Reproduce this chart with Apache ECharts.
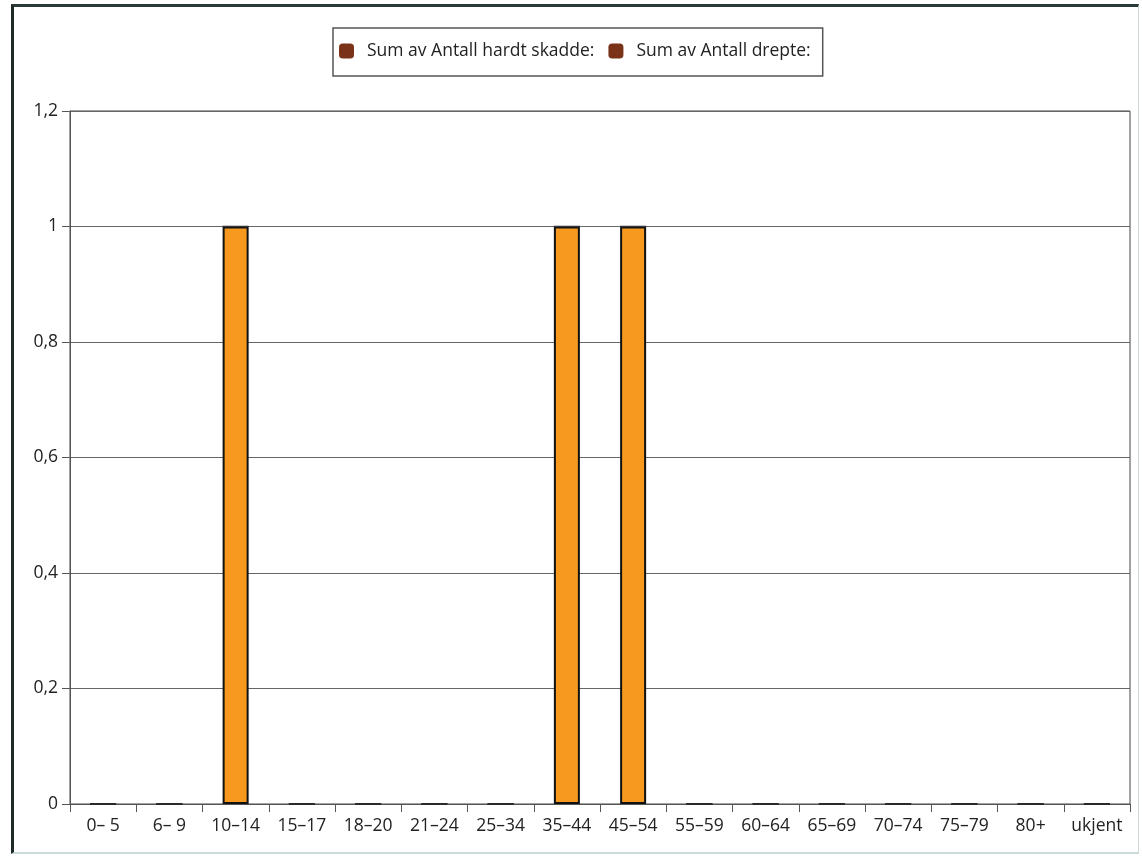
<!DOCTYPE html>
<html>
<head>
<meta charset="utf-8">
<script src="https://cdn.jsdelivr.net/npm/echarts@6/dist/echarts.min.js"></script>
<style>
html,body{margin:0;padding:0;background:#fff;}
#frame{position:absolute;left:11px;top:4px;width:1128px;height:850px;border-left:3px solid #1e2a28;border-top:3px solid #2a3a38;border-right:1px solid #cfd8d8;border-bottom:2px solid #c8dada;box-sizing:border-box;}
#chart{position:absolute;left:0;top:0;width:1142px;height:859px;}
</style>
</head>
<body>
<div id="frame"></div>
<div id="chart"></div>
<script>
const categories = ['0\u2013 5','6\u2013 9','10\u201314','15\u201317','18\u201320','21\u201324','25\u201334','35\u201344','45\u201354','55\u201359','60\u201364','65\u201369','70\u201374','75\u201379','80+','ukjent'];
const hardtSkadde = [0,0,1,0,0,0,0,1,1,0,0,0,0,0,0,0];
const drepte = [0,0,0,0,0,0,0,0,0,0,0,0,0,0,0,0];
const yTicks = [0,0.2,0.4,0.6,0.8,1,1.2];

const chart = echarts.init(document.getElementById('chart'));
const font = 'Open Sans, Liberation Sans, sans-serif';
chart.setOption({
  animation:false,
  legend:{
    top:28, left:333,
    padding:[14,12,16,6],
    borderColor:'#555', borderWidth:1.5,
    itemWidth:15, itemHeight:15, itemGap:14,
    textStyle:{fontFamily:font,fontSize:17.5,color:'#222',padding:[0,0,0,8]},
    data:[
      {name:'Sum av Antall hardt skadde:',icon:'roundRect',itemStyle:{color:'#7a3218',borderWidth:0}},
      {name:'Sum av Antall drepte:',icon:'roundRect',itemStyle:{color:'#7a3218',borderWidth:0}}
    ]
  },
  grid:{left:70,right:12,top:111,bottom:55,show:true,borderColor:'#444',borderWidth:1,backgroundColor:'transparent'},
  xAxis:{
    type:'category', data:categories,
    axisLine:{lineStyle:{color:'#555'}},
    axisTick:{show:true,length:8,lineStyle:{color:'#555'}},
    axisLabel:{fontFamily:font,fontSize:17.5,color:'#222',margin:13,interval:0}
  },
  yAxis:{
    type:'value', min:0, max:1.2, interval:0.2,
    axisLine:{show:true,lineStyle:{color:'#555'}},
    axisTick:{show:true,length:8,lineStyle:{color:'#555'}},
    splitLine:{lineStyle:{color:'#666'}},
    axisLabel:{fontFamily:font,fontSize:17.5,color:'#222',margin:12,
      formatter:v=>String(Math.round(v*10)/10).replace('.',',')}
  },
  series:[
    {name:'Sum av Antall hardt skadde:',type:'bar',stack:'s',data:hardtSkadde,barWidth:26,
      itemStyle:{color:'#f7981f',borderColor:'#111',borderWidth:2}},
    {name:'Sum av Antall drepte:',type:'bar',stack:'s',data:drepte,barWidth:26,
      itemStyle:{color:'#7a3218',borderColor:'#333',borderWidth:1.5}}
  ]
});
</script>
</body>
</html>
